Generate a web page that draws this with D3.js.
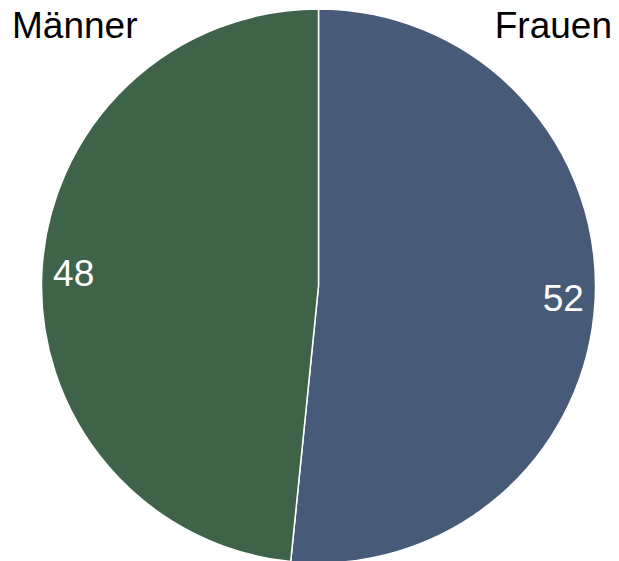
<!DOCTYPE html>
<html>
<head>
<meta charset="utf-8">
<script src="https://cdn.jsdelivr.net/npm/d3@7"></script>
<style>
  html, body { margin: 0; padding: 0; background: #fff; }
  svg text { font-family: "Liberation Sans", Arial, sans-serif; }
</style>
</head>
<body>
<div id="viz"></div>
<script>
const categories = ['Frauen', 'Männer'];
const values = [51.6, 48.4];
const colors = ['#475a78', '#3e6349'];

const width = 619, height = 561;
const cx = 318.5, cy = 286, radius = 277;

const svg = d3.select('#viz').append('svg')
  .attr('width', width)
  .attr('height', height);

const data = categories.map((c, i) => ({ name: c, value: values[i], color: colors[i] }));

const pie = d3.pie().sort(null).value(d => d.value);
const arcs = pie(data);

const arc = d3.arc().innerRadius(0).outerRadius(radius);
const labelArc = d3.arc().innerRadius(radius * 0.885).outerRadius(radius * 0.885);
const fmt = d3.format('.0f');

const g = svg.append('g').attr('transform', `translate(${cx},${cy})`);

g.selectAll('path')
  .data(arcs)
  .join('path')
  .attr('d', arc)
  .attr('fill', d => d.data.color)
  .attr('stroke', '#fff')
  .attr('stroke-width', 1.5);

g.selectAll('text.val')
  .data(arcs)
  .join('text')
  .attr('class', 'val')
  .attr('transform', d => `translate(${labelArc.centroid(d)})`)
  .attr('text-anchor', 'middle')
  .attr('dominant-baseline', 'central')
  .attr('fill', '#fff')
  .style('font-size', '37px')
  .text(d => fmt(d.data.value));

// category names in the top corners
svg.append('text')
  .attr('x', 12).attr('y', 38)
  .attr('text-anchor', 'start')
  .style('font-size', '37px')
  .text(categories[1]);

svg.append('text')
  .attr('x', 612).attr('y', 38)
  .attr('text-anchor', 'end')
  .style('font-size', '37px')
  .text(categories[0]);
</script>
</body>
</html>
